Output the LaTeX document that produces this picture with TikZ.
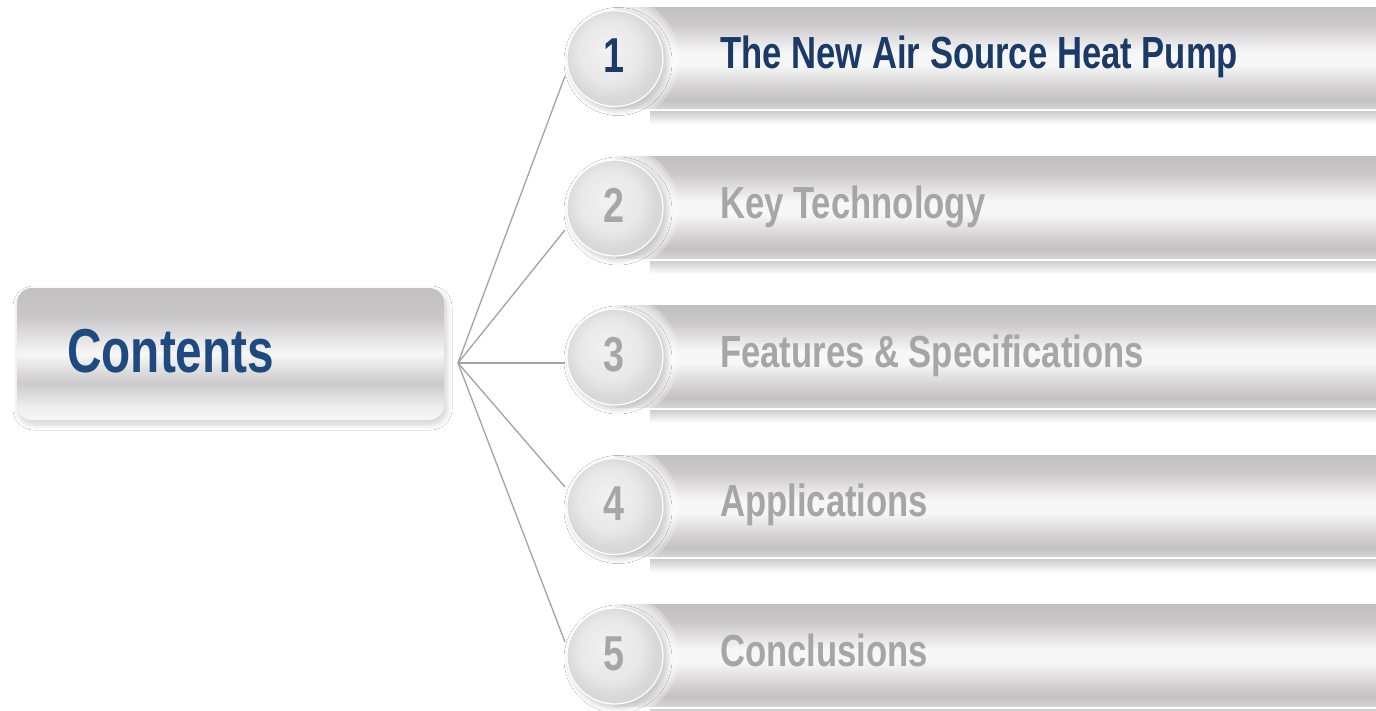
\documentclass[tikz,border=0pt]{standalone}
\usepackage{fontspec}
\setmainfont{Liberation Sans}
\newfontfamily\cond{Liberation Sans}[FakeStretch=0.77]
\usetikzlibrary{shadows.blur}
\definecolor{btop}{HTML}{C3C0C1}
\definecolor{btopb}{HTML}{CAC7C8}
\definecolor{bwhite}{HTML}{F7F7F7}
\definecolor{bmid}{HTML}{D4D2D3}
\definecolor{bdark}{HTML}{C3C1C2}
\definecolor{bbot}{HTML}{D8D6D7}
\definecolor{xdark}{HTML}{CCCACB}
\definecolor{xlight}{HTML}{EEEEEE}
\definecolor{xbot}{HTML}{F7F7F7}
\definecolor{dinner}{HTML}{F2F2F2}
\definecolor{dmid}{HTML}{E8E8E8}
\definecolor{dedge}{HTML}{D8D8D8}
\definecolor{cblue}{HTML}{1F4A80}
\definecolor{navy}{HTML}{1A3A68}
\definecolor{tgray}{HTML}{A6A6A6}
\definecolor{lgray}{HTML}{A3A3A3}
\definecolor{shgray}{HTML}{CDCDCD}
\pgfdeclareverticalshading{barshade}{100bp}{color(0bp)=(bbot); color(25bp)=(bbot); color(30bp)=(bdark); color(36bp)=(bmid); color(47bp)=(bwhite); color(53bp)=(bwhite); color(67bp)=(btopb); color(75bp)=(btop); color(100bp)=(btop)}
\pgfdeclareverticalshading{boxshade}{100bp}{color(0bp)=(xbot); color(25bp)=(xbot); color(30bp)=(xlight); color(39bp)=(xdark); color(50bp)=(bwhite); color(64bp)=(btopb); color(75bp)=(btop); color(100bp)=(btop)}
\pgfdeclareradialshading{discshade}{\pgfpoint{-4bp}{5bp}}{color(0bp)=(dinner); color(16bp)=(dmid); color(24bp)=(dedge); color(50bp)=(dedge)}
\tikzset{
  barbox/.style={shade, shading=barshade, minimum width=761pt, minimum height=103pt, inner sep=0pt, anchor=west},
  disc/.style={circle, shade, shading=discshade, minimum size=96pt, inner sep=0pt, draw=white, line width=1.2pt,
    blur shadow={shadow xshift=3pt, shadow yshift=-3pt, shadow blur radius=6pt, shadow blur steps=20, shadow opacity=25}},
  conn/.style={draw=lgray, line width=1.3pt},
  numtxt/.style={anchor=base, inner sep=0pt, font=\cond\bfseries\fontsize{49}{49}\selectfont},
  itemtxt/.style={anchor=base west, inner sep=0pt, font=\cond\bfseries\fontsize{45}{45}\selectfont}
}
\begin{document}
\begin{tikzpicture}[x=1pt,y=-1pt]
\useasboundingbox (0,0) rectangle (1376,710);
\fill[white] (0,0) rectangle (1376,710);
% contents box
\node[shade, shading=boxshade, rounded corners=15pt, minimum width=427pt, minimum height=132pt, inner sep=0pt,
  blur shadow={shadow xshift=2pt, shadow yshift=-4pt, shadow blur radius=6pt, shadow blur steps=20, shadow opacity=20}] (contents) at (230.5,354) {};
\node[anchor=base west, inner sep=0pt, font=\cond\bfseries\fontsize{62}{62}\selectfont, text=cblue] (ctitle) at (67,372) {Contents};
% bars
\foreach \i/\yc in {1/58.5,2/208,3/357,4/506.5,5/656}{
  \shade[top color=shgray, bottom color=white] (650,\yc+53) rectangle (1376,\yc+66);
  \node[barbox] (bar\i) at (615,\yc) {};
  \draw[white, line width=1.5pt] (bar\i.south west) -- (bar\i.south east);
  \foreach \r in {64,61,58,55,52}{\fill[white, opacity=0.25] (615,\yc) circle (\r);}
}
% connectors
\coordinate (hub) at (458,363);
\coordinate (e1) at (565,76);
\coordinate (e2) at (565,230);
\coordinate (e3) at (565,363);
\coordinate (e4) at (565,487);
\coordinate (e5) at (565,642);
\foreach \i in {1,...,5}{\draw[conn] (hub) -- (e\i);}
% discs, numbers, texts
\foreach \i/\yc/\txt/\col in {1/58.5/The New Air Source Heat Pump/navy,2/208/Key Technology/tgray,3/357/Features \& Specifications/tgray,4/506.5/Applications/tgray,5/656/Conclusions/tgray}{
  \node[disc] (n\i) at (615,\yc) {};
  \node[numtxt, text=\col] (num\i) at (614,\yc+14) {\i};
  \node[itemtxt, text=\col] (t\i) at (720,\yc+10) {\txt};
}
\end{tikzpicture}
\end{document}
